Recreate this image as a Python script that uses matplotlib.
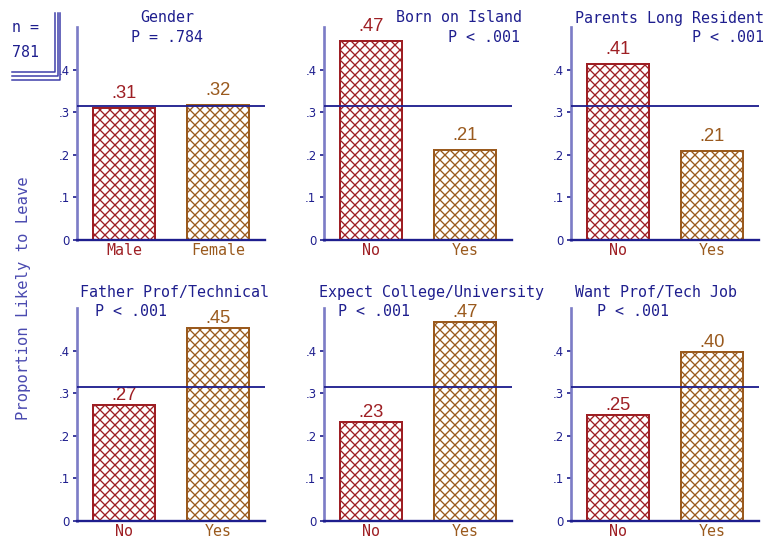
import matplotlib
matplotlib.use("Agg")
import matplotlib.pyplot as plt
from matplotlib.ticker import FuncFormatter

# ---- data ----
panel_titles = ["Gender", "Born on Island", "Parents Long Resident",
                "Father Prof/Technical", "Expect College/University", "Want Prof/Tech Job"]
p_values = ["P = .784", "P < .001", "P < .001", "P < .001", "P < .001", "P < .001"]
categories = [["Male", "Female"], ["No", "Yes"], ["No", "Yes"],
              ["No", "Yes"], ["No", "Yes"], ["No", "Yes"]]
proportions = [[0.309, 0.317], [0.466, 0.212], [0.413, 0.210],
               [0.273, 0.452], [0.232, 0.467], [0.248, 0.397]]
overall_rate = 0.314
n_total = 781
y_ticks = [0, 0.1, 0.2, 0.3, 0.4]

# ---- style ----
W, H, DPI = 770, 541, 120
NAVY = "#1e1e8e"
SPINE = "#7c7cc6"
YLAB = "#4a4ab0"
BAR_COLORS = ["#9e1f24", "#9a5a1e"]
MONO = "DejaVu Sans Mono"
plt.rcParams["hatch.linewidth"] = 0.8

fig = plt.figure(figsize=(W / DPI, H / DPI), dpi=DPI)
fig.patch.set_facecolor("white")


def fx(x):
    return x / W


def fy(y):
    return 1 - y / H


# axes boxes in pixels: left, top, width, height
col_left = [77, 324, 571]
row_top = [27, 308]
ax_w, ax_h = 188, 213
label_gap = [6.0, 3.0]  # points between bar top and value label, per row

# title placements: (x, y, ha) for title and P line
title_pos = [
    ((167, 18, "center"), (167, 37, "center")),
    ((522, 18, "right"), (520, 37, "right")),
    ((764, 19, "right"), (764, 37, "right")),
    ((80, 292, "left"), (95, 311, "left")),
    ((319, 292, "left"), (338, 311, "left")),
    ((575, 292, "left"), (597, 311, "left")),
]

for i in range(6):
    r, c = divmod(i, 3)
    left, top = col_left[c], row_top[r]
    ax = fig.add_axes([fx(left), fy(top + ax_h), ax_w / W, ax_h / H])
    vals = proportions[i]
    xs = list(range(len(vals)))
    for x, v, col in zip(xs, vals, BAR_COLORS):
        ax.bar(x, v, width=0.67, facecolor="white", edgecolor=col,
               hatch="xxxx", linewidth=1.2, zorder=2)
        ax.annotate(f"{v:.2f}"[1:], (x, v), xytext=(0, label_gap[r]),
                    textcoords="offset points", ha="center", va="baseline",
                    color=col, fontsize=11, family="Liberation Sans")
    ax.axhline(overall_rate, color=NAVY, lw=1.1, zorder=3)
    ax.set_xlim(-0.5, 1.5)
    ax.set_ylim(0, 0.5)
    ax.set_yticks(y_ticks)
    ax.yaxis.set_major_formatter(FuncFormatter(
        lambda v, _: "0" if abs(v) < 1e-9 else f"{v:.1f}"[1:]))
    ax.tick_params(axis="y", length=2.5, width=1, color=NAVY, labelcolor=NAVY,
                   labelsize=7, pad=2)
    ax.set_xticks(xs)
    ax.set_xticklabels(categories[i], family=MONO, fontsize=9)
    ax.tick_params(axis="x", length=0, pad=2)
    for lbl, col in zip(ax.get_xticklabels(), BAR_COLORS):
        lbl.set_color(col)
    for s in ["top", "right"]:
        ax.spines[s].set_visible(False)
    ax.spines["left"].set_color(SPINE)
    ax.spines["left"].set_linewidth(1.6)
    ax.spines["bottom"].set_color(NAVY)
    ax.spines["bottom"].set_linewidth(1.4)
    ax.spines["bottom"].set_zorder(4)
    ax.patch.set_alpha(0)

    (tx, ty, tha), (px_, py_, pha) = title_pos[i]
    fig.text(fx(tx), fy(ty), panel_titles[i], ha=tha, va="center",
             family=MONO, fontsize=9, color=NAVY)
    fig.text(fx(px_), fy(py_), p_values[i], ha=pha, va="center",
             family=MONO, fontsize=9, color=NAVY)

# y-axis label shared by all panels
fig.text(fx(24), fy(298), "Proportion Likely to Leave", rotation=90,
         ha="center", va="center", family=MONO, fontsize=9.3, color=YLAB)

# sample size box with nested corner lines
fig.text(fx(12), fy(32), "n =", ha="left", va="baseline",
         family=MONO, fontsize=9, color=NAVY)
fig.text(fx(12), fy(57), f"{n_total}", ha="left", va="baseline",
         family=MONO, fontsize=9, color=NAVY)
for xv, yb in [(55, 72), (57.5, 76), (60, 80)]:
    fig.add_artist(plt.Line2D([fx(12), fx(xv), fx(xv)], [fy(yb), fy(yb), fy(13)],
                              color="#3a3aa8", lw=0.9))

fig.savefig("out.png", dpi=DPI, facecolor="white")
